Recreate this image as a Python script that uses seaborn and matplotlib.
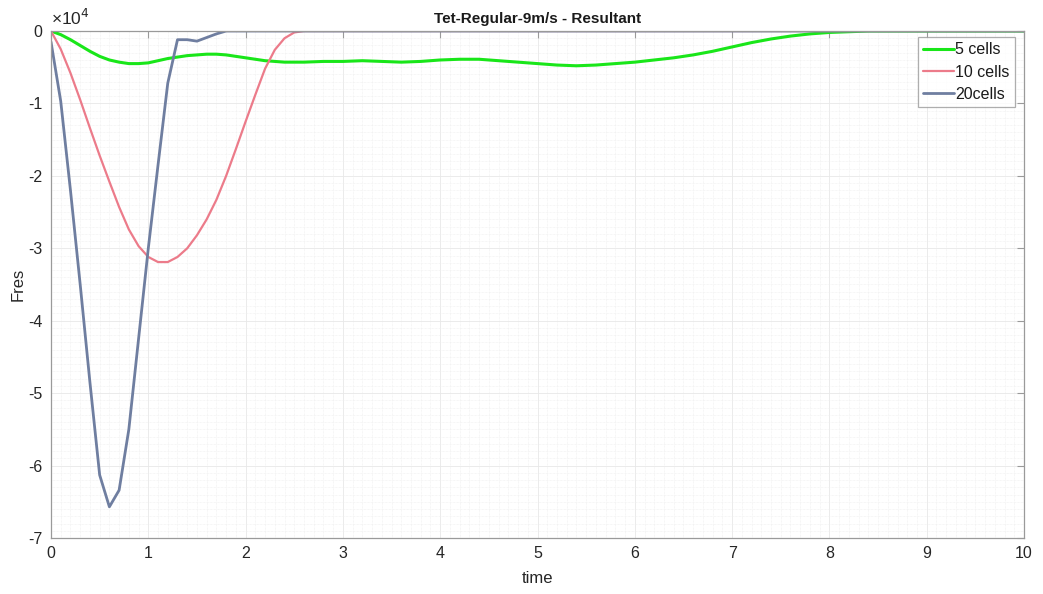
import numpy as np
import pandas as pd
import matplotlib
matplotlib.use("Agg")
import matplotlib.pyplot as plt
from matplotlib.ticker import MultipleLocator, FuncFormatter
import seaborn as sns

# Resultant force (units of 1e4) for three mesh resolutions
time_5 = [0.0, 0.1, 0.2, 0.3, 0.4, 0.5, 0.6, 0.7, 0.8, 0.9, 1.0, 1.1, 1.2, 1.3, 1.4,
          1.5, 1.6, 1.7, 1.8, 1.9, 2.0, 2.1, 2.2, 2.3, 2.4, 2.6, 2.8,
          3.0, 3.2, 3.4, 3.6, 3.8, 4.0, 4.2, 4.4, 4.6, 4.8, 5.0, 5.2, 5.4, 5.6, 5.8,
          6.0, 6.2, 6.4, 6.6, 6.8, 7.0, 7.2, 7.4, 7.6, 7.8, 8.0, 8.2, 8.4, 8.6, 8.8,
          9.0, 9.2, 9.4, 9.6, 9.8, 10.0]
fres_5 = [0.0, -0.05, -0.12, -0.20, -0.28, -0.35, -0.40, -0.43, -0.45, -0.45, -0.44,
          -0.41, -0.38, -0.36, -0.34, -0.33, -0.32, -0.32, -0.33, -0.35, -0.37, -0.39,
          -0.41, -0.42, -0.43, -0.43, -0.42, -0.42, -0.41, -0.42, -0.43, -0.42, -0.40,
          -0.39, -0.39, -0.41, -0.43, -0.45, -0.47, -0.48, -0.47, -0.45, -0.43, -0.40,
          -0.37, -0.33, -0.28, -0.22, -0.16, -0.11, -0.07, -0.04, -0.02, -0.01, 0.0,
          0.0, 0.0, 0.0, 0.0, 0.0, 0.0, 0.0, 0.0]

time_10 = [0.0, 0.1, 0.2, 0.3, 0.4, 0.5, 0.6, 0.7, 0.8, 0.9, 1.0, 1.1, 1.2, 1.3, 1.4,
           1.5, 1.6, 1.7, 1.8, 1.9, 2.0, 2.1, 2.2, 2.3, 2.4, 2.5, 2.6, 3.0, 4.0, 5.0,
           6.0, 7.0, 8.0, 9.0, 10.0]
fres_10 = [0.0, -0.25, -0.58, -0.95, -1.34, -1.72, -2.08, -2.43, -2.74, -2.97, -3.12,
           -3.19, -3.19, -3.12, -3.0, -2.82, -2.6, -2.33, -2.0, -1.63, -1.25, -0.88,
           -0.52, -0.26, -0.1, -0.02, 0.0, 0.0, 0.0, 0.0, 0.0, 0.0, 0.0, 0.0, 0.0]

time_20 = [0.0, 0.1, 0.2, 0.3, 0.4, 0.5, 0.6, 0.7, 0.8, 0.9, 1.0, 1.1, 1.2, 1.3, 1.4,
           1.5, 1.6, 1.7, 1.8, 2.0, 3.0, 4.0, 5.0, 6.0, 7.0, 8.0, 9.0, 10.0]
fres_20 = [-0.15, -0.97, -2.2, -3.5, -4.85, -6.13, -6.57, -6.34, -5.5, -4.25, -3.0,
           -1.85, -0.72, -0.12, -0.12, -0.14, -0.09, -0.04, 0.0, 0.0, 0.0, 0.0, 0.0,
           0.0, 0.0, 0.0, 0.0, 0.0]

labels = ["5 cells", "10 cells", "20cells"]
colors = ["#19e619", "#ec7b8a", "#6f7ea0"]
widths = [2.2, 1.6, 2.0]

frames = [
    pd.DataFrame({"time": time_5, "Fres": fres_5}),
    pd.DataFrame({"time": time_10, "Fres": fres_10}),
    pd.DataFrame({"time": time_20, "Fres": fres_20}),
]

sns.set_theme(style="white")
plt.rcParams["font.family"] = ["Liberation Sans", "DejaVu Sans"]

fig = plt.figure(figsize=(10.43, 5.94), dpi=100)
ax = fig.add_axes([0.0489, 0.0943, 0.9329, 0.8535])

for df, lab, col, lw in zip(frames, labels, colors, widths):
    sns.lineplot(data=df, x="time", y="Fres", ax=ax, color=col, linewidth=lw,
                 label=lab, sort=False, estimator=None)

ax.set_xlim(0, 10)
ax.set_ylim(-7, 0)
ax.xaxis.set_major_locator(MultipleLocator(1))
ax.yaxis.set_major_locator(MultipleLocator(1))
ax.xaxis.set_minor_locator(MultipleLocator(0.1))
ax.yaxis.set_minor_locator(MultipleLocator(0.1))
ax.yaxis.set_major_formatter(FuncFormatter(lambda v, p: f"{v:.0f}".replace("\u2212", "-")))

ax.grid(which="major", color="#e8e8e8", linewidth=0.6)
ax.grid(which="minor", color="#eeeeee", linewidth=0.5, linestyle=(0, (1, 1)))
ax.set_axisbelow(True)

for side in ax.spines.values():
    side.set_color("#9a9a9a")
    side.set_linewidth(0.9)
ax.tick_params(which="major", direction="in", length=5, width=0.8, color="#9a9a9a",
               top=True, right=True, labelsize=11.5, labelcolor="#262626", pad=6)
ax.tick_params(which="minor", length=0, top=True, right=True)

ax.set_xlabel("time", fontsize=12, color="#262626", labelpad=7)
ax.set_ylabel("Fres", fontsize=12, color="#262626", labelpad=2)
ax.set_title("Tet-Regular-9m/s - Resultant", fontsize=11, fontweight="bold",
             color="#1a1a1a", pad=6)
ax.text(0.0, 1.006, "\u00d710$^4$", transform=ax.transAxes, fontsize=12.5,
        color="#262626", ha="left", va="bottom")

leg = ax.legend(loc="upper right", bbox_to_anchor=(0.996, 0.998), fontsize=11.5,
                frameon=True, fancybox=False, handlelength=1.9, handletextpad=0.1,
                borderpad=0.35, labelspacing=0.45, borderaxespad=0.3)
leg.get_frame().set_edgecolor("#9a9a9a")
leg.get_frame().set_linewidth(0.9)
for t in leg.get_texts():
    t.set_color("#1a1a1a")

fig.savefig("out.png", dpi=100, facecolor="white")
